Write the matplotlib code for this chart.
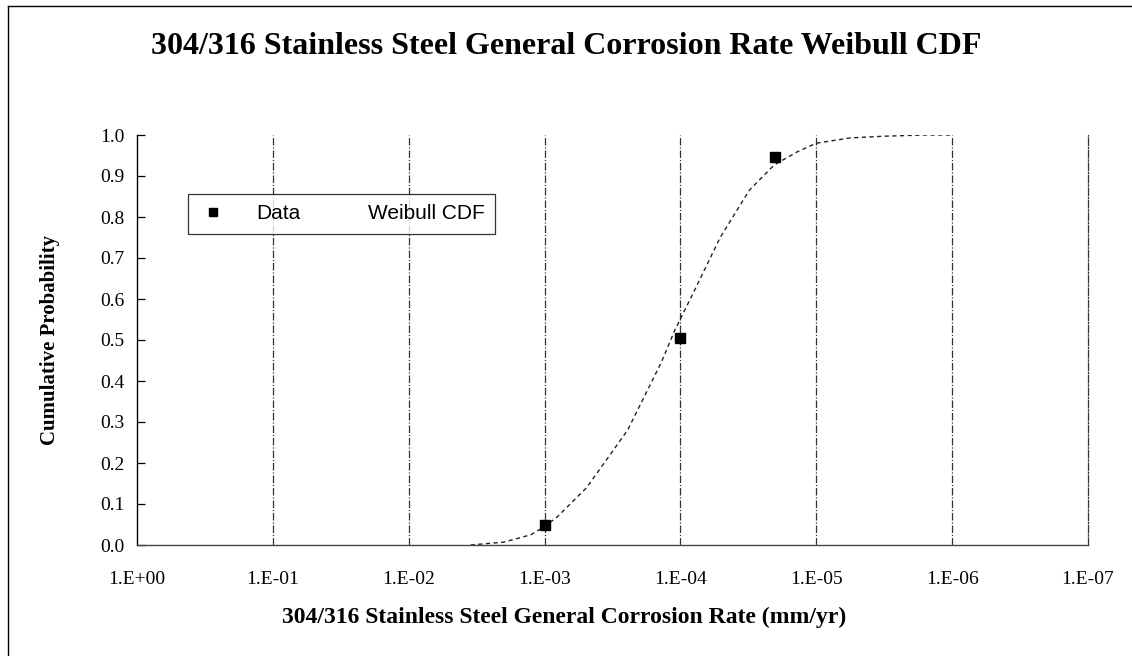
import math
import matplotlib
matplotlib.use("Agg")
import matplotlib.pyplot as plt
from matplotlib.ticker import FixedLocator, FuncFormatter
from matplotlib.lines import Line2D

# ---- data ----
data_rate = [1.0e-03, 1.0e-04, 2.0e-05]
data_prob = [0.048, 0.505, 0.946]

curve_rate = [3.5e-03, 2.0e-03, 1.26e-03, 1.0e-03, 8.1e-04, 4.9e-04, 2.45e-04,
              1.38e-04, 1.1e-04, 7.9e-05, 5.1e-05, 3.1e-05, 2.04e-05, 1.38e-05,
              1.0e-05, 5.6e-06, 3.2e-06, 1.6e-06, 1.0e-06]
curve_prob = [0.0, 0.007, 0.025, 0.045, 0.068, 0.14, 0.28,
              0.446, 0.524, 0.62, 0.75, 0.866, 0.927, 0.959,
              0.98, 0.993, 0.997, 1.0, 1.0]

x_ticks = [1e0, 1e-1, 1e-2, 1e-3, 1e-4, 1e-5, 1e-6, 1e-7]
y_ticks = [0.0, 0.1, 0.2, 0.3, 0.4, 0.5, 0.6, 0.7, 0.8, 0.9, 1.0]

title = "304/316 Stainless Steel General Corrosion Rate Weibull CDF"
xlabel = "304/316 Stainless Steel General Corrosion Rate (mm/yr)"
ylabel = "Cumulative Probability"
legend_labels = ["Data", "Weibull CDF"]

serif = ["Liberation Serif", "DejaVu Serif"]
sans = ["Liberation Sans", "DejaVu Sans"]

W, H = 1132, 656
fig = plt.figure(figsize=(W/100, H/100), dpi=100)
L, R, T, B = 137, 1088, 135, 545
ax = fig.add_axes([L/W, 1-B/H, (R-L)/W, (B-T)/H])

ax.set_xscale("log")
ax.set_xlim(x_ticks[0], x_ticks[-1])
ax.set_ylim(0, 1.0)

# grid lines at decades
for xv in x_ticks[1:-1]:
    ax.axvline(xv, color="#333333", lw=0.9, ls=(0, (6, 1.5, 1, 1.5)), zorder=1)

ax.plot(curve_rate, curve_prob, color="#222222", lw=1.0, ls=(0, (3, 2.5)),
        zorder=2)
ax.plot(data_rate, data_prob, ls="none", marker="s", ms=7, color="black",
        zorder=3)

# spines
ax.spines["top"].set_visible(False)
ax.spines["left"].set_color("black")
ax.spines["left"].set_linewidth(1.0)
ax.spines["bottom"].set_color("#444444")
ax.spines["bottom"].set_linestyle((0, (2, 1)))
ax.spines["bottom"].set_linewidth(1.0)
ax.spines["right"].set_color("#333333")
ax.spines["right"].set_linestyle((0, (6, 1.5, 1, 1.5)))
ax.spines["right"].set_linewidth(0.9)

ax.xaxis.set_major_locator(FixedLocator(x_ticks))
ax.xaxis.set_minor_locator(FixedLocator([]))
ax.xaxis.set_major_formatter(FuncFormatter(
    lambda v, p: "1.E{:+03d}".format(int(round(math.log10(v))))))
ax.yaxis.set_major_locator(FixedLocator(y_ticks))
ax.yaxis.set_major_formatter(FuncFormatter(lambda v, p: f"{v:.1f}"))

ax.tick_params(axis="x", length=0, pad=19, labelsize=14)
ax.tick_params(axis="y", direction="in", length=6, width=0.9, pad=9, labelsize=14)
for lab in ax.get_xticklabels() + ax.get_yticklabels():
    lab.set_family(serif)

fig.text(564/W, 1-617/H, xlabel, ha="center", va="center", family=serif,
         fontweight="bold", fontsize=17)
fig.text(50/W, 1-340/H, ylabel, ha="center", va="center", rotation=90,
         family=serif, fontweight="bold", fontsize=15)
fig.text(566/W, 1-47/H, title, ha="center", va="center", family=serif,
         fontweight="bold", fontsize=23)

# legend
handles = [Line2D([], [], ls="none", marker="s", ms=6, color="black"),
           Line2D([], [], ls="none", color="none")]
leg = ax.legend(handles, legend_labels, ncol=2, loc="upper left",
                bbox_to_anchor=((188-L)/(R-L), (B-194)/(B-T)),
                prop={"family": sans, "size": 15}, frameon=True, fancybox=False,
                borderpad=0.5, borderaxespad=0, handlelength=1.4,
                columnspacing=0.4, handletextpad=1.4)
leg.get_frame().set_edgecolor("black")
leg.get_frame().set_linewidth(0.9)

# outer frame (left and top edges)
fig.add_artist(Line2D([8/W, 8/W], [0, 1-6/H], color="black", lw=1.0,
                      transform=fig.transFigure))
fig.add_artist(Line2D([8/W, 1], [1-6/H, 1-6/H], color="black", lw=1.0,
                      transform=fig.transFigure))

fig.savefig("out.png", dpi=100)
